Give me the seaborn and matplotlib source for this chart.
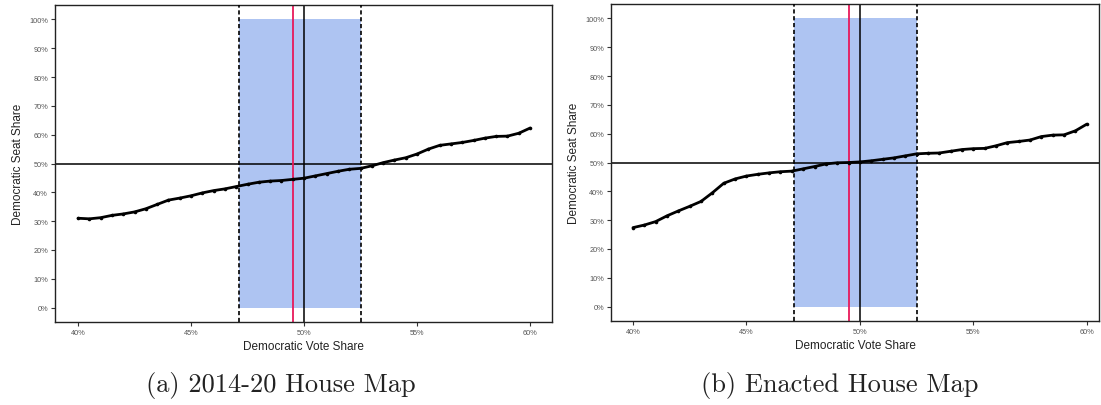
import numpy as np
import pandas as pd
import matplotlib
matplotlib.use("Agg")
import matplotlib.pyplot as plt
import seaborn as sns

# ---- data ----
vote_share = [40.0, 40.5, 41.0, 41.5, 42.0, 42.5, 43.0, 43.5, 44.0, 44.5,
              45.0, 45.5, 46.0, 46.5, 47.0, 47.5, 48.0, 48.5, 49.0, 49.5,
              50.0, 50.5, 51.0, 51.5, 52.0, 52.5, 53.0, 53.5, 54.0, 54.5,
              55.0, 55.5, 56.0, 56.5, 57.0, 57.5, 58.0, 58.5, 59.0, 59.5, 60.0]
seats_2014_20 = [31.0, 30.8, 31.2, 32.0, 32.5, 33.2, 34.3, 35.8, 37.3, 38.0,
                 38.8, 39.8, 40.6, 41.2, 42.0, 42.8, 43.5, 43.9, 44.1, 44.5,
                 44.9, 45.7, 46.5, 47.3, 48.0, 48.3, 49.2, 50.3, 51.2, 52.0,
                 53.3, 55.0, 56.3, 56.8, 57.3, 58.0, 58.8, 59.4, 59.5, 60.5, 62.3]
seats_enacted = [27.4, 28.3, 29.5, 31.5, 33.2, 34.8, 36.5, 39.5, 42.8, 44.3,
                 45.3, 45.9, 46.4, 46.8, 47.0, 47.8, 48.6, 49.5, 49.9, 50.0,
                 50.2, 50.6, 51.1, 51.6, 52.3, 53.0, 53.2, 53.3, 53.9, 54.5,
                 54.8, 54.9, 55.8, 56.9, 57.3, 57.8, 59.0, 59.5, 59.6, 61.0, 63.3]
band_low, band_high = 47.1, 52.5
observed_vote = 49.5
x_ticks = [40, 45, 50, 55, 60]
x_tick_labels = ["40%", "45%", "50%", "55%", "60%"]
y_ticks = [0, 10, 20, 30, 40, 50, 60, 70, 80, 90, 100]
y_tick_labels = [f"{v}%" for v in y_ticks]
captions = ["(a) 2014-20 House Map", "(b) Enacted House Map"]

sns.set_style("white")
plt.rcParams["font.family"] = ["Liberation Sans", "DejaVu Sans"]

W, H = 1101, 406
fig = plt.figure(figsize=(W / 100, H / 100), dpi=100)

def px_axes(x0, x1, ytop, ybot):
    return fig.add_axes([x0 / W, (H - ybot) / H, (x1 - x0) / W, (ybot - ytop) / H])

panels = [
    dict(ax=px_axes(55, 552, 6, 323), seats=seats_2014_20, xlim=(38.98, 60.97), cap_x=281),
    dict(ax=px_axes(611, 1099, 5, 322), seats=seats_enacted, xlim=(39.03, 60.54), cap_x=840),
]

blue = "#aec4f2"
for p, cap in zip(panels, captions):
    ax = p["ax"]
    df = pd.DataFrame({"vote": vote_share, "seat": p["seats"]})
    ax.fill_between([band_low, band_high], 0, 100, color=blue, linewidth=0, zorder=1)
    ax.axvline(band_low, color="black", ls=(0, (2.5, 1.6)), lw=1.2, zorder=3)
    ax.axvline(band_high, color="black", ls=(0, (2.5, 1.6)), lw=1.2, zorder=3)
    ax.axhline(50, color="black", lw=1.1, zorder=2)
    ax.axvline(50, color="black", lw=1.1, zorder=2)
    ax.axvline(observed_vote, color="#e8195a", lw=1.3, zorder=2)
    sns.lineplot(data=df, x="vote", y="seat", ax=ax, color="black", lw=2.0,
                 marker="o", markersize=2.6, markeredgewidth=0, zorder=4)
    ax.set_xlim(*p["xlim"])
    ax.set_ylim(-5, 105)
    ax.set_xticks(x_ticks)
    ax.set_xticklabels(x_tick_labels)
    ax.set_yticks(y_ticks)
    ax.set_yticklabels(y_tick_labels)
    ax.tick_params(axis="both", length=3, width=0.8, color="#333333",
                   labelsize=5.3, labelcolor="#555555", pad=2, direction="out")
    ax.tick_params(axis="x", bottom=True)
    ax.tick_params(axis="y", left=True)
    ax.set_xlabel("Democratic Vote Share", fontsize=8.5, color="#222222", labelpad=3)
    ax.set_ylabel("Democratic Seat Share", fontsize=8.5, color="#222222", labelpad=4)
    for s in ax.spines.values():
        s.set_visible(True)
        s.set_color("#222222")
        s.set_linewidth(1.0)
    fig.text(p["cap_x"] / W, (H - 386) / H, cap, ha="center", va="center",
             fontsize=19, family=["cmr10", "DejaVu Serif"], color="#222222")

fig.savefig("out.png", dpi=100)
